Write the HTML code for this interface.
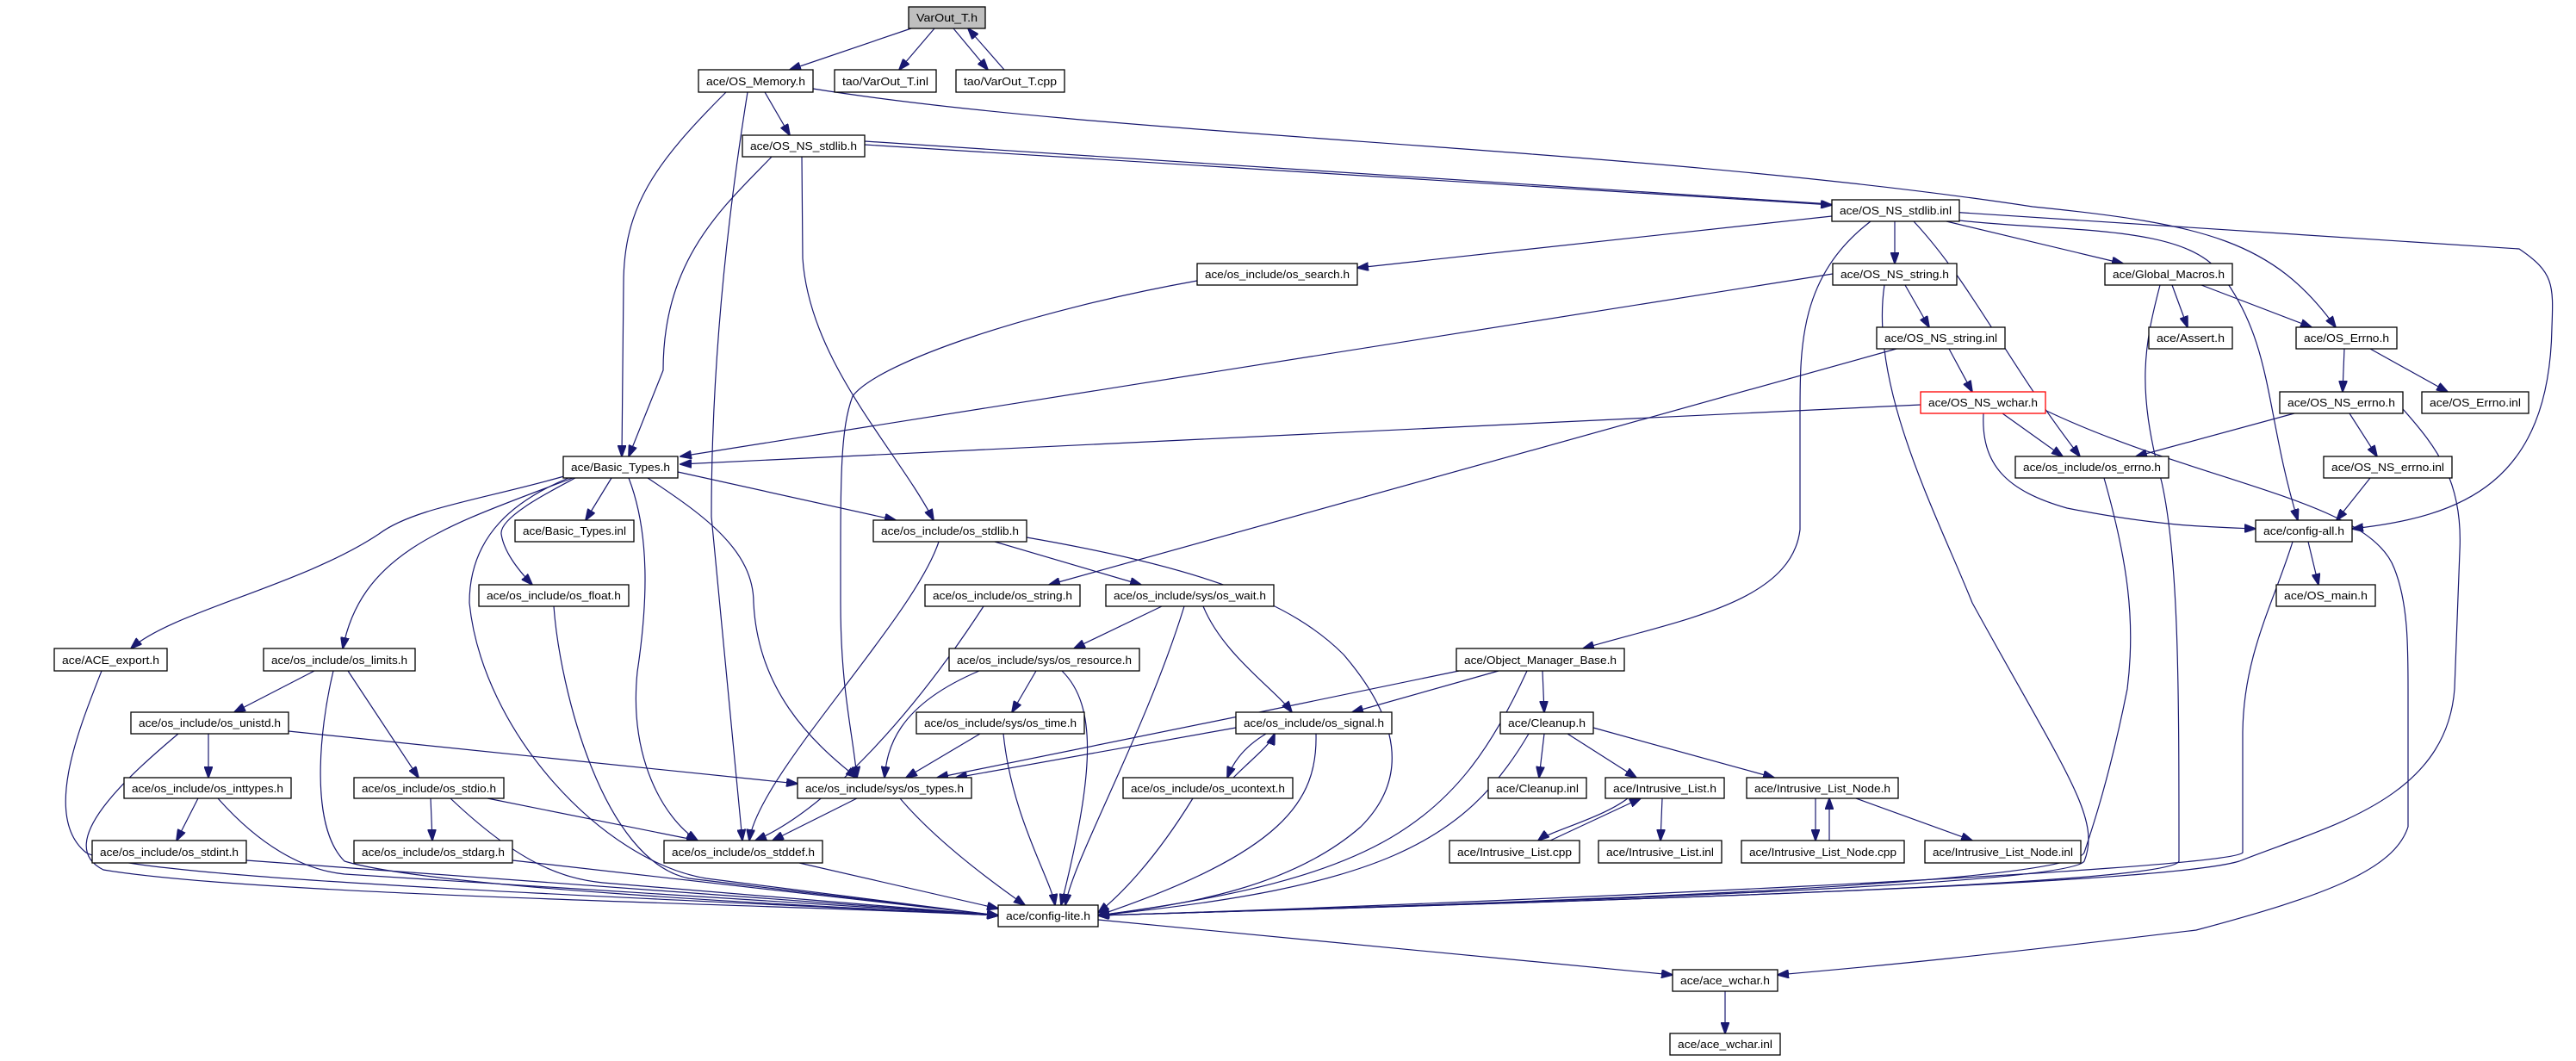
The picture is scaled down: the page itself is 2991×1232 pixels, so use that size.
<!DOCTYPE html>
<html><head><meta charset="utf-8"><style>
html,body{margin:0;padding:0;background:#fff;}
svg{display:block;}
text{font-family:"Liberation Sans",sans-serif;font-size:13px;fill:#000;}
.e{fill:none;stroke:#191970;stroke-width:1.2;marker-end:url(#a);}
.n{fill:#fff;stroke:#000;stroke-width:1.3;}
</style></head><body>
<svg width="2991" height="1232" viewBox="0 0 2991 1232" xmlns="http://www.w3.org/2000/svg">
<defs><marker id="a" markerUnits="userSpaceOnUse" markerWidth="14" markerHeight="10" refX="13" refY="5" orient="auto"><path d="M0,0 L14,5 L0,10 Z" fill="#191970" stroke="#191970"/></marker></defs>
<g>
<path class="e" d="M1058,33 L917,81"/>
<path class="e" d="M1085,33 L1044,81"/>
<path class="e" d="M1107,33 L1147,81"/>
<path class="e" d="M1166,81 L1124,33"/>
<path class="e" d="M843,107 C760,190 724,240 724,330 L722,530"/>
<path class="e" d="M868,107 C845,250 826,420 826,600 L862,976"/>
<path class="e" d="M888,107 L917,157"/>
<path class="e" d="M944,103 C1300,160 1900,170 2360,240 C2560,260 2640,280 2712,380"/>
<path class="e" d="M897,181 C840,240 770,300 770,430 L730,530"/>
<path class="e" d="M931,181 L932,300 C940,420 1040,520 1084,604"/>
<path class="e" d="M1004,168 L2127,238"/>
<path class="e" d="M1004,164 L2925,289 C2965,316 2965,330 2963,380 C2960,560 2860,600 2731,614"/>
<path class="e" d="M2127,251 L1576,311"/>
<path class="e" d="M2200,257 L2200,306"/>
<path class="e" d="M2260,257 L2465,306"/>
<path class="e" d="M2222,257 C2290,330 2330,420 2415,530"/>
<path class="e" d="M2275,256 C2400,270 2540,260 2580,320 C2640,400 2630,480 2668,604"/>
<path class="e" d="M2172,257 C2090,320 2090,400 2090,480 L2090,615 C2080,700 1950,720 1838,753"/>
<path class="e" d="M1390,326 C1200,360 1020,420 990,460 C975,500 976,560 976,700 C976,800 990,850 995,903"/>
<path class="e" d="M2128,318 L790,530"/>
<path class="e" d="M2188,331 C2170,450 2250,600 2290,700 C2400,900 2440,950 2420,1000 C2400,1030 1700,1050 1275,1063"/>
<path class="e" d="M2508,331 C2490,400 2480,450 2510,560 C2530,650 2530,800 2530,1000 C2520,1030 1700,1050 1275,1063"/>
<path class="e" d="M2522,331 L2540,380"/>
<path class="e" d="M2556,331 L2684,380"/>
<path class="e" d="M2212,331 L2240,380"/>
<path class="e" d="M2202,405 L1218,679"/>
<path class="e" d="M2263,405 L2290,455"/>
<path class="e" d="M2722,405 L2720,455"/>
<path class="e" d="M2752,405 L2842,455"/>
<path class="e" d="M2230,470 L790,539"/>
<path class="e" d="M2325,480 L2395,530"/>
<path class="e" d="M2303,480 C2300,540 2330,570 2400,590 C2500,610 2560,612 2619,614"/>
<path class="e" d="M2374,476 C2550,560 2750,580 2780,660 C2796,700 2796,750 2796,800 L2796,960 C2780,1010 2700,1040 2550,1080 C2300,1110 2200,1120 2064,1132"/>
<path class="e" d="M2664,480 L2480,530"/>
<path class="e" d="M2728,480 L2760,530"/>
<path class="e" d="M2790,475 C2830,520 2860,560 2856,640 L2850,800 C2840,930 2700,960 2600,1000 C2500,1030 1700,1050 1275,1063"/>
<path class="e" d="M2443,555 C2470,650 2480,720 2470,800 C2450,900 2430,960 2420,990 C2400,1030 1700,1050 1275,1063"/>
<path class="e" d="M2752,555 L2713,604"/>
<path class="e" d="M2680,629 L2692,679"/>
<path class="e" d="M2662,629 C2640,700 2605,760 2604,850 L2604,990 C2590,1010 1700,1050 1275,1063"/>
<path class="e" d="M1275,1068 L1942,1132"/>
<path class="e" d="M2003,1151 L2003,1200"/>
<path class="e" d="M655,553 C560,580 480,590 440,620 C350,680 200,710 152,753"/>
<path class="e" d="M665,555 C520,610 420,640 398,753"/>
<path class="e" d="M668,555 C640,570 580,600 582,620 C585,640 600,660 618,679"/>
<path class="e" d="M710,555 L680,604"/>
<path class="e" d="M660,555 C600,580 545,620 545,700 C560,850 700,1000 820,1020 L1159,1063"/>
<path class="e" d="M730,555 C755,620 752,700 740,780 C730,880 770,950 810,976"/>
<path class="e" d="M752,555 C820,600 875,640 875,700 C880,800 940,860 995,903"/>
<path class="e" d="M787,548 L1040,604"/>
<path class="e" d="M1090,629 C1060,720 880,900 870,976"/>
<path class="e" d="M1155,629 L1325,679"/>
<path class="e" d="M1192,624 C1400,660 1500,700 1560,760 C1620,830 1640,900 1580,960 C1500,1030 1380,1050 1275,1063"/>
<path class="e" d="M1142,704 C1060,830 960,940 877,976"/>
<path class="e" d="M1349,704 L1247,753"/>
<path class="e" d="M1375,704 C1330,850 1245,1000 1237,1051"/>
<path class="e" d="M1397,704 C1420,760 1480,800 1500,827"/>
<path class="e" d="M1137,779 C1040,820 1030,870 1027,903"/>
<path class="e" d="M1203,779 L1175,827"/>
<path class="e" d="M1233,779 C1275,820 1270,900 1232,1051"/>
<path class="e" d="M1138,852 L1052,903"/>
<path class="e" d="M1165,852 C1175,950 1220,1020 1225,1051"/>
<path class="e" d="M1694,779 C1500,820 1200,880 1088,903"/>
<path class="e" d="M1740,779 L1570,827"/>
<path class="e" d="M1791,779 L1793,827"/>
<path class="e" d="M1773,779 C1690,960 1600,1020 1275,1063"/>
<path class="e" d="M1435,845 L1110,903"/>
<path class="e" d="M1470,852 C1440,870 1430,890 1425,903"/>
<path class="e" d="M1432,903 C1455,880 1475,865 1480,852"/>
<path class="e" d="M1528,852 C1530,930 1490,990 1275,1063"/>
<path class="e" d="M1385,927 C1340,1000 1300,1040 1275,1060"/>
<path class="e" d="M1793,852 L1787,903"/>
<path class="e" d="M1820,852 L1900,903"/>
<path class="e" d="M1850,845 L2060,903"/>
<path class="e" d="M1775,852 C1700,980 1600,1030 1275,1063"/>
<path class="e" d="M1890,927 C1860,950 1800,965 1786,976"/>
<path class="e" d="M1800,976 L1905,927"/>
<path class="e" d="M1930,927 L1928,976"/>
<path class="e" d="M2108,927 L2108,976"/>
<path class="e" d="M2124,976 L2124,927"/>
<path class="e" d="M2155,927 L2290,976"/>
<path class="e" d="M118,779 C90,850 50,950 100,990 C150,1020 700,1040 1159,1063"/>
<path class="e" d="M365,779 L272,827"/>
<path class="e" d="M404,779 L486,903"/>
<path class="e" d="M387,779 C370,850 360,960 400,1000 C500,1030 900,1050 1159,1063"/>
<path class="e" d="M242,852 L242,903"/>
<path class="e" d="M335,849 L926,910"/>
<path class="e" d="M207,852 C150,900 60,980 120,1010 C300,1040 900,1050 1159,1063"/>
<path class="e" d="M230,927 L205,976"/>
<path class="e" d="M253,927 C300,980 350,1010 400,1015 L1159,1063"/>
<path class="e" d="M286,999 L1159,1063"/>
<path class="e" d="M500,927 L502,976"/>
<path class="e" d="M566,927 L810,976"/>
<path class="e" d="M523,927 C600,1000 650,1020 700,1025 L1159,1063"/>
<path class="e" d="M595,999 L1159,1063"/>
<path class="e" d="M643,704 C650,800 700,1000 800,1020 L1159,1063"/>
<path class="e" d="M995,927 L897,976"/>
<path class="e" d="M1045,927 C1090,980 1160,1030 1190,1051"/>
<path class="e" d="M928,1002 L1159,1055"/>
</g>
<g>
<rect x="1055" y="8" width="89" height="25" fill="#bfbfbf" stroke="#000" stroke-width="1.3"/><text x="1099.5" y="25" text-anchor="middle" textLength="71" lengthAdjust="spacingAndGlyphs">VarOut_T.h</text>
<rect class="n" x="811" y="81" width="133" height="26"/><text x="877.5" y="99" text-anchor="middle" textLength="115" lengthAdjust="spacingAndGlyphs">ace/OS_Memory.h</text>
<rect class="n" x="969" y="81" width="118" height="26"/><text x="1028" y="99" text-anchor="middle" textLength="100" lengthAdjust="spacingAndGlyphs">tao/VarOut_T.inl</text>
<rect class="n" x="1110" y="81" width="126" height="26"/><text x="1173" y="99" text-anchor="middle" textLength="108" lengthAdjust="spacingAndGlyphs">tao/VarOut_T.cpp</text>
<rect class="n" x="862" y="157" width="142" height="25"/><text x="933" y="174" text-anchor="middle" textLength="124" lengthAdjust="spacingAndGlyphs">ace/OS_NS_stdlib.h</text>
<rect class="n" x="2127" y="232" width="148" height="25"/><text x="2201" y="249" text-anchor="middle" textLength="130" lengthAdjust="spacingAndGlyphs">ace/OS_NS_stdlib.inl</text>
<rect class="n" x="1390" y="306" width="186" height="25"/><text x="1483" y="323" text-anchor="middle" textLength="168" lengthAdjust="spacingAndGlyphs">ace/os_include/os_search.h</text>
<rect class="n" x="2128" y="306" width="144" height="25"/><text x="2200" y="323" text-anchor="middle" textLength="126" lengthAdjust="spacingAndGlyphs">ace/OS_NS_string.h</text>
<rect class="n" x="2444" y="306" width="148" height="25"/><text x="2518" y="323" text-anchor="middle" textLength="130" lengthAdjust="spacingAndGlyphs">ace/Global_Macros.h</text>
<rect class="n" x="2179" y="380" width="149" height="25"/><text x="2253.5" y="397" text-anchor="middle" textLength="131" lengthAdjust="spacingAndGlyphs">ace/OS_NS_string.inl</text>
<rect class="n" x="2495" y="380" width="97" height="25"/><text x="2543.5" y="397" text-anchor="middle" textLength="79" lengthAdjust="spacingAndGlyphs">ace/Assert.h</text>
<rect class="n" x="2666" y="380" width="117" height="25"/><text x="2724.5" y="397" text-anchor="middle" textLength="99" lengthAdjust="spacingAndGlyphs">ace/OS_Errno.h</text>
<rect x="2230" y="455" width="145" height="25" fill="#fff" stroke="#ff0000" stroke-width="1.3"/><text x="2302.5" y="472" text-anchor="middle" textLength="127" lengthAdjust="spacingAndGlyphs">ace/OS_NS_wchar.h</text>
<rect class="n" x="2647" y="455" width="143" height="25"/><text x="2718.5" y="472" text-anchor="middle" textLength="125" lengthAdjust="spacingAndGlyphs">ace/OS_NS_errno.h</text>
<rect class="n" x="2812" y="455" width="124" height="25"/><text x="2874" y="472" text-anchor="middle" textLength="106" lengthAdjust="spacingAndGlyphs">ace/OS_Errno.inl</text>
<rect class="n" x="654" y="530" width="133" height="25"/><text x="720.5" y="547" text-anchor="middle" textLength="115" lengthAdjust="spacingAndGlyphs">ace/Basic_Types.h</text>
<rect class="n" x="2340" y="530" width="178" height="25"/><text x="2429" y="547" text-anchor="middle" textLength="160" lengthAdjust="spacingAndGlyphs">ace/os_include/os_errno.h</text>
<rect class="n" x="2698" y="530" width="149" height="25"/><text x="2772.5" y="547" text-anchor="middle" textLength="131" lengthAdjust="spacingAndGlyphs">ace/OS_NS_errno.inl</text>
<rect class="n" x="598" y="604" width="138" height="25"/><text x="667" y="621" text-anchor="middle" textLength="120" lengthAdjust="spacingAndGlyphs">ace/Basic_Types.inl</text>
<rect class="n" x="1014" y="604" width="178" height="25"/><text x="1103" y="621" text-anchor="middle" textLength="160" lengthAdjust="spacingAndGlyphs">ace/os_include/os_stdlib.h</text>
<rect class="n" x="2619" y="604" width="112" height="25"/><text x="2675" y="621" text-anchor="middle" textLength="94" lengthAdjust="spacingAndGlyphs">ace/config-all.h</text>
<rect class="n" x="556" y="679" width="174" height="25"/><text x="643" y="696" text-anchor="middle" textLength="156" lengthAdjust="spacingAndGlyphs">ace/os_include/os_float.h</text>
<rect class="n" x="1074" y="679" width="180" height="25"/><text x="1164" y="696" text-anchor="middle" textLength="162" lengthAdjust="spacingAndGlyphs">ace/os_include/os_string.h</text>
<rect class="n" x="1284" y="679" width="195" height="25"/><text x="1381.5" y="696" text-anchor="middle" textLength="177" lengthAdjust="spacingAndGlyphs">ace/os_include/sys/os_wait.h</text>
<rect class="n" x="2643" y="679" width="115" height="25"/><text x="2700.5" y="696" text-anchor="middle" textLength="97" lengthAdjust="spacingAndGlyphs">ace/OS_main.h</text>
<rect class="n" x="63" y="753" width="131" height="26"/><text x="128.5" y="771" text-anchor="middle" textLength="113" lengthAdjust="spacingAndGlyphs">ace/ACE_export.h</text>
<rect class="n" x="306" y="753" width="176" height="26"/><text x="394" y="771" text-anchor="middle" textLength="158" lengthAdjust="spacingAndGlyphs">ace/os_include/os_limits.h</text>
<rect class="n" x="1102" y="753" width="221" height="26"/><text x="1212.5" y="771" text-anchor="middle" textLength="203" lengthAdjust="spacingAndGlyphs">ace/os_include/sys/os_resource.h</text>
<rect class="n" x="1691" y="753" width="195" height="26"/><text x="1788.5" y="771" text-anchor="middle" textLength="177" lengthAdjust="spacingAndGlyphs">ace/Object_Manager_Base.h</text>
<rect class="n" x="152" y="827" width="183" height="25"/><text x="243.5" y="844" text-anchor="middle" textLength="165" lengthAdjust="spacingAndGlyphs">ace/os_include/os_unistd.h</text>
<rect class="n" x="1064" y="827" width="195" height="25"/><text x="1161.5" y="844" text-anchor="middle" textLength="177" lengthAdjust="spacingAndGlyphs">ace/os_include/sys/os_time.h</text>
<rect class="n" x="1435" y="827" width="181" height="25"/><text x="1525.5" y="844" text-anchor="middle" textLength="163" lengthAdjust="spacingAndGlyphs">ace/os_include/os_signal.h</text>
<rect class="n" x="1742" y="827" width="108" height="25"/><text x="1796" y="844" text-anchor="middle" textLength="90" lengthAdjust="spacingAndGlyphs">ace/Cleanup.h</text>
<rect class="n" x="144" y="903" width="194" height="24"/><text x="241" y="920" text-anchor="middle" textLength="176" lengthAdjust="spacingAndGlyphs">ace/os_include/os_inttypes.h</text>
<rect class="n" x="411" y="903" width="174" height="24"/><text x="498" y="920" text-anchor="middle" textLength="156" lengthAdjust="spacingAndGlyphs">ace/os_include/os_stdio.h</text>
<rect class="n" x="926" y="903" width="202" height="24"/><text x="1027" y="920" text-anchor="middle" textLength="184" lengthAdjust="spacingAndGlyphs">ace/os_include/sys/os_types.h</text>
<rect class="n" x="1304" y="903" width="197" height="24"/><text x="1402.5" y="920" text-anchor="middle" textLength="179" lengthAdjust="spacingAndGlyphs">ace/os_include/os_ucontext.h</text>
<rect class="n" x="1728" y="903" width="114" height="24"/><text x="1785" y="920" text-anchor="middle" textLength="96" lengthAdjust="spacingAndGlyphs">ace/Cleanup.inl</text>
<rect class="n" x="1864" y="903" width="138" height="24"/><text x="1933" y="920" text-anchor="middle" textLength="120" lengthAdjust="spacingAndGlyphs">ace/Intrusive_List.h</text>
<rect class="n" x="2028" y="903" width="176" height="24"/><text x="2116" y="920" text-anchor="middle" textLength="158" lengthAdjust="spacingAndGlyphs">ace/Intrusive_List_Node.h</text>
<rect class="n" x="107" y="976" width="179" height="26"/><text x="196.5" y="994" text-anchor="middle" textLength="161" lengthAdjust="spacingAndGlyphs">ace/os_include/os_stdint.h</text>
<rect class="n" x="411" y="976" width="184" height="26"/><text x="503" y="994" text-anchor="middle" textLength="166" lengthAdjust="spacingAndGlyphs">ace/os_include/os_stdarg.h</text>
<rect class="n" x="771" y="976" width="184" height="26"/><text x="863" y="994" text-anchor="middle" textLength="166" lengthAdjust="spacingAndGlyphs">ace/os_include/os_stddef.h</text>
<rect class="n" x="1683" y="976" width="151" height="26"/><text x="1758.5" y="994" text-anchor="middle" textLength="133" lengthAdjust="spacingAndGlyphs">ace/Intrusive_List.cpp</text>
<rect class="n" x="1856" y="976" width="143" height="26"/><text x="1927.5" y="994" text-anchor="middle" textLength="125" lengthAdjust="spacingAndGlyphs">ace/Intrusive_List.inl</text>
<rect class="n" x="2022" y="976" width="189" height="26"/><text x="2116.5" y="994" text-anchor="middle" textLength="171" lengthAdjust="spacingAndGlyphs">ace/Intrusive_List_Node.cpp</text>
<rect class="n" x="2235" y="976" width="181" height="26"/><text x="2325.5" y="994" text-anchor="middle" textLength="163" lengthAdjust="spacingAndGlyphs">ace/Intrusive_List_Node.inl</text>
<rect class="n" x="1159" y="1051" width="116" height="25"/><text x="1217" y="1068" text-anchor="middle" textLength="98" lengthAdjust="spacingAndGlyphs">ace/config-lite.h</text>
<rect class="n" x="1942" y="1126" width="122" height="25"/><text x="2003" y="1143" text-anchor="middle" textLength="104" lengthAdjust="spacingAndGlyphs">ace/ace_wchar.h</text>
<rect class="n" x="1939" y="1200" width="128" height="25"/><text x="2003" y="1217" text-anchor="middle" textLength="110" lengthAdjust="spacingAndGlyphs">ace/ace_wchar.inl</text>
</g>
</svg>
</body></html>
